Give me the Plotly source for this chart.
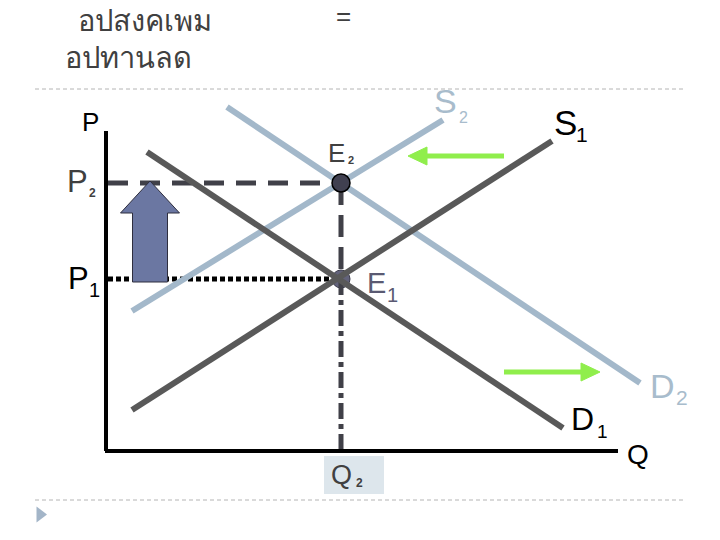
import plotly.graph_objects as go

# ---------------- data (economic coordinates: Q to the right, P upward) ----------------
# Origin of the P-Q axes sits at the lower-left corner of the diagram.
Q_AXIS_END = 512
P_AXIS_END = 320

D1_q = [41, 457]
D1_p = [299, 23]
S1_q = [26, 446]
S1_p = [41, 310]
D2_q = [121, 534]
D2_p = [344, 68]
S2_q = [26, 337]
S2_p = [140, 331]

Q2 = 235          # equilibrium quantity (unchanged)
P1 = 172          # old equilibrium price
P2 = 268          # new equilibrium price

ARROW_Q = 44      # price-rise arrow position
SHIFT_S = [398, 302, 295]   # supply shift arrow: from q, to q, at p
SHIFT_D = [398, 494, 79]    # demand shift arrow: from q, to q, at p

title_line1 = "อปสงคเพม"
title_eq = "="
title_line2 = "อปทานลด"

# ---------------- helpers ----------------
OX, OY = 106, 451  # pixel location of the origin in the 720x540 page


def pix(x, y):
    """reference page pixel -> data coordinates"""
    return x - OX, OY - y


DARK = "#595959"
LIGHT = "#a3b8ca"
LABEL_LIGHT = "#a8bccc"
GREEN = "#90ee4c"
FONT = "Liberation Sans, Arial, sans-serif"

fig = go.Figure()


def seg(xs, ys, color, width, dash="solid"):
    fig.add_trace(go.Scatter(x=xs, y=ys, mode="lines",
                             line=dict(color=color, width=width, dash=dash),
                             hoverinfo="skip"))


# E1 marker beneath the curves
fig.add_trace(go.Scatter(x=[Q2], y=[P1], mode="markers",
                         marker=dict(size=18, color="#62627a",
                                     line=dict(color="#3a3a4a", width=1)),
                         hoverinfo="skip"))

# guide lines
seg([2, Q2], [P2, P2], "#404048", 5, "20px,12px")
seg([2, Q2], [P1, P1], "#000000", 5, "5px,3px")
seg([Q2, Q2], [P2, P1], "#404048", 5, "22px,10px")
seg([Q2, Q2], [P1, 0], "#404048", 5, "16px,5px,5px,5px")

# curves
seg(D2_q, D2_p, LIGHT, 6)
seg(S2_q, S2_p, LIGHT, 6)
seg(D1_q, D1_p, DARK, 6)
seg(S1_q, S1_p, DARK, 6)

# axes
seg([0, 0], [0, P_AXIS_END], "#000000", 4)
seg([-1, Q_AXIS_END], [0, 0], "#000000", 4)

# E2 marker
fig.add_trace(go.Scatter(x=[Q2], y=[P2], mode="markers",
                         marker=dict(size=18, color="#404050",
                                     line=dict(color="#000000", width=1.5)),
                         hoverinfo="skip"))

# price-rise arrow (from P1 up to P2)
sh, hh, hl = 17.5, 29.5, 32
tip = P2 + 2
base = P1 - 3
ax_x = [ARROW_Q - sh, ARROW_Q - sh, ARROW_Q - hh, ARROW_Q, ARROW_Q + hh,
        ARROW_Q + sh, ARROW_Q + sh, ARROW_Q - sh]
ax_y = [base, tip - hl, tip - hl, tip, tip - hl, tip - hl, base, base]
fig.add_trace(go.Scatter(x=ax_x, y=ax_y, mode="lines", fill="toself",
                         fillcolor="#6b77a2", line=dict(color="#2e2e3e", width=1),
                         hoverinfo="skip"))


# green shift arrows
def green_arrow(q0, q1, p):
    d = 1 if q1 > q0 else -1
    hl = 19
    seg([q0, q1 - d * hl], [p, p], GREEN, 5)
    fig.add_trace(go.Scatter(x=[q1 - d * hl, q1, q1 - d * hl, q1 - d * hl],
                             y=[p + 9, p, p - 9, p + 9], mode="lines",
                             fill="toself", fillcolor=GREEN,
                             line=dict(color=GREEN, width=1), hoverinfo="skip"))


green_arrow(*SHIFT_S)
green_arrow(*SHIFT_D)

# slide separators and bullet
for yy in (89, 500):
    x0, y0 = pix(35, yy)
    x1, _ = pix(685, yy)
    seg([x0, x1], [y0, y0], "#b4b4b4", 1, "4px,3px")
bx, by = pix(40, 514.5)
fig.add_trace(go.Scatter(x=[bx], y=[by], mode="markers",
                         marker=dict(symbol="triangle-right", size=14, color="#a3b5c8"),
                         hoverinfo="skip"))

# Q2 label box
qx0, qy0 = pix(324, 456)
qx1, qy1 = pix(384, 494)
fig.add_shape(type="rect", x0=qx0, x1=qx1, y0=qy1, y1=qy0, xref="x", yref="y",
              fillcolor="#dde6ec", line=dict(width=0), layer="below")


def text(px_, py_, s, size, color, family=FONT):
    x, y = pix(px_, py_)
    fig.add_annotation(x=x, y=y, xref="x", yref="y", text=s, showarrow=False,
                       xanchor="center", yanchor="middle", borderpad=0,
                       font=dict(size=size, color=color, family=family))


# axis / curve labels: (main letter, subscript)
text(90, 122, "P", 26, "#000000")
text(77, 181.5, "P", 31, "#3f3f3f")
text(92, 192.5, "<b>2</b>", 12, "#3f3f3f")
text(78.5, 278.5, "P", 31, "#000000")
text(94, 290, "1", 20, "#000000")
text(336.5, 152.5, "E", 26, "#404040")
text(350.5, 160, "<b>2</b>", 11, "#404040")
text(376.5, 282.5, "E", 29, "#5a5a72")
text(392, 295, "1", 20, "#5a5a72")
text(445, 100.5, "S", 34, LABEL_LIGHT)
text(463, 117.5, "2", 16, LABEL_LIGHT)
text(565, 122, "S", 35, "#000000")
text(582, 134.5, "1", 21, "#000000")
text(582.5, 418.5, "D", 32, "#000000")
text(602, 431.5, "1", 19, "#000000")
text(662.5, 385.5, "D", 34, LABEL_LIGHT)
text(682, 397.5, "2", 21, LABEL_LIGHT)
text(637.5, 454, "Q", 28, "#000000")
text(341.5, 475, "Q", 27, "#404040")
text(359.5, 483, "<b>2</b>", 12, "#404040")

# title
text(145, 19, title_line1, 29, "#404040", "Noto Sans, DejaVu Sans, sans-serif")
text(343, 16, title_eq, 26, "#404040")
text(128, 56, title_line2, 29, "#404040", "Noto Sans, DejaVu Sans, sans-serif")

fig.update_layout(
    width=720, height=540,
    margin=dict(l=0, r=0, t=0, b=0),
    paper_bgcolor="white", plot_bgcolor="white", showlegend=False,
    xaxis=dict(range=[-OX, 720 - OX], visible=False, fixedrange=True),
    yaxis=dict(range=[OY - 540, OY], visible=False, fixedrange=True),
)

# place the figure flush with the page corner (no default body margin)
fig.write_html("out.html", config={"displayModeBar": False},
               post_script="document.body.style.margin='0';")
